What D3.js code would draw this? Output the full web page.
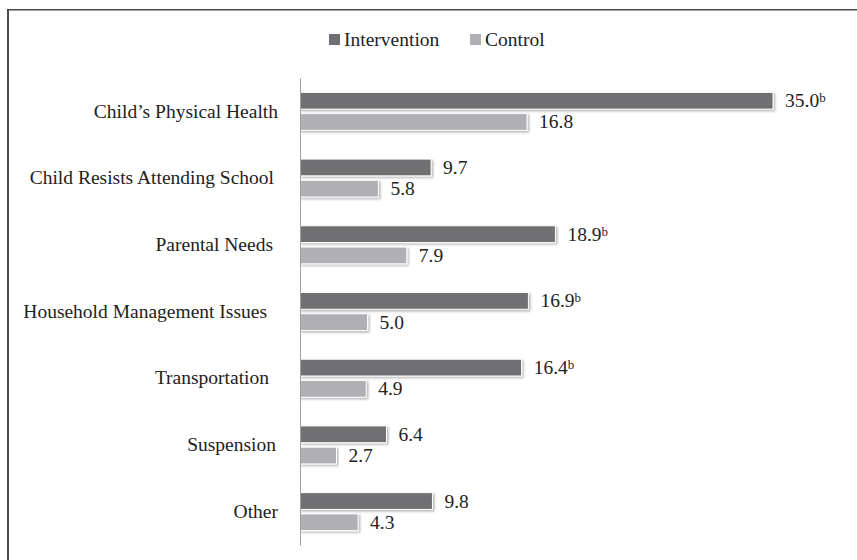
<!DOCTYPE html>
<html>
<head>
<meta charset="utf-8">
<script src="https://cdn.jsdelivr.net/npm/d3@7"></script>
<style>
  html, body { margin: 0; padding: 0; background: #fff; }
  svg { display: block; }
  text { font-family: "Liberation Serif", "Times New Roman", serif; fill: #222; }
</style>
</head>
<body>
<svg id="chart" width="857" height="560"></svg>
<script>
// Reasons for absence, percent of reported absences
const categories = [
  "Child\u2019s Physical Health",
  "Child Resists Attending School",
  "Parental Needs",
  "Household Management Issues",
  "Transportation",
  "Suspension",
  "Other"
];
const series = ["Intervention", "Control"];
const intervention = [35.0, 9.7, 18.9, 16.9, 16.4, 6.4, 9.8];
const control = [16.8, 5.8, 7.9, 5.0, 4.9, 2.7, 4.3];
// superscript marks on intervention values (significant differences)
const interventionMarks = ["b", "", "b", "b", "b", "", ""];

const colors = { Intervention: "#6f6f73", Control: "#b0b0b4" };
// small leftward shifts of the category labels (trailing-space look)
const labelShift = [0, 4, 5, 11, 9, 2, 0];

const svg = d3.select("#chart");
const W = 857, H = 560;

// drop shadow for bars
const defs = svg.append("defs");
const f = defs.append("filter").attr("id", "barShadow")
  .attr("x", "-5%").attr("y", "-30%").attr("width", "110%").attr("height", "160%");
f.append("feDropShadow").attr("dx", 1.5).attr("dy", 1.5)
  .attr("stdDeviation", 1.2).attr("flood-color", "#000").attr("flood-opacity", 0.3);

// frame (left and top edges)
svg.append("line").attr("x1", 8).attr("x2", 8).attr("y1", 9).attr("y2", H)
  .attr("stroke", "#4a4a4a").attr("stroke-width", 2);
svg.append("line").attr("x1", 7).attr("x2", W).attr("y1", 9.75).attr("y2", 9.75)
  .attr("stroke", "#4a4a4a").attr("stroke-width", 1.5);

const x = d3.scaleLinear().domain([0, 35]).range([300, 773]);
const y0 = d3.scaleBand().domain(categories).range([78, 545]);
const half = y0.bandwidth() / 2;
const y1 = d3.scaleBand().domain(series).range([half - 19, half + 19]).paddingInner(4 / 38 * 2);

const rows = categories.map((c, i) => ({
  cat: c,
  vals: [
    { s: "Intervention", v: intervention[i], mark: interventionMarks[i] },
    { s: "Control", v: control[i], mark: "" }
  ]
}));

const g = svg.append("g");
const groups = g.selectAll("g.grp").data(rows).join("g")
  .attr("class", "grp")
  .attr("transform", d => `translate(0,${y0(d.cat)})`);

groups.selectAll("rect").data(d => d.vals).join("rect")
  .attr("x", x(0))
  .attr("y", d => y1(d.s))
  .attr("width", d => x(d.v) - x(0))
  .attr("height", y1.bandwidth())
  .attr("fill", d => colors[d.s])
  .attr("stroke", "#fff")
  .attr("stroke-width", 1)
  .attr("filter", "url(#barShadow)");

const labels = groups.selectAll("text.val").data(d => d.vals).join("text")
  .attr("class", "val")
  .attr("x", d => x(d.v) + 12)
  .attr("y", d => y1(d.s) + y1.bandwidth() / 2 + 6.5)
  .attr("font-size", 19.5);
labels.append("tspan").text(d => d.v.toFixed(1));
labels.filter(d => d.mark).append("tspan")
  .attr("dy", -5).attr("font-size", 13).text(d => d.mark);

// category axis
const yAxis = d3.axisLeft(y0).tickSize(0).tickPadding(22);
const ax = svg.append("g").attr("transform", `translate(${x(0)},0)`).call(yAxis);
ax.select(".domain").attr("stroke", "#a0a0a0").attr("stroke-width", 1);
ax.selectAll(".tick text")
  .attr("font-family", "'Liberation Serif', 'Times New Roman', serif")
  .attr("font-size", 19.5)
  .attr("fill", "#222")
  .attr("dx", (d, i) => -labelShift[i]);

// legend
const legend = svg.append("g");
const legItems = [
  { s: "Intervention", x: 329 },
  { s: "Control", x: 470 }
];
legItems.forEach(it => {
  legend.append("rect").attr("x", it.x).attr("y", 34).attr("width", 11).attr("height", 11)
    .attr("fill", colors[it.s]);
  legend.append("text").attr("x", it.x + 15).attr("y", 45.5)
    .attr("font-size", 19.5).text(it.s);
});
</script>
</body>
</html>
